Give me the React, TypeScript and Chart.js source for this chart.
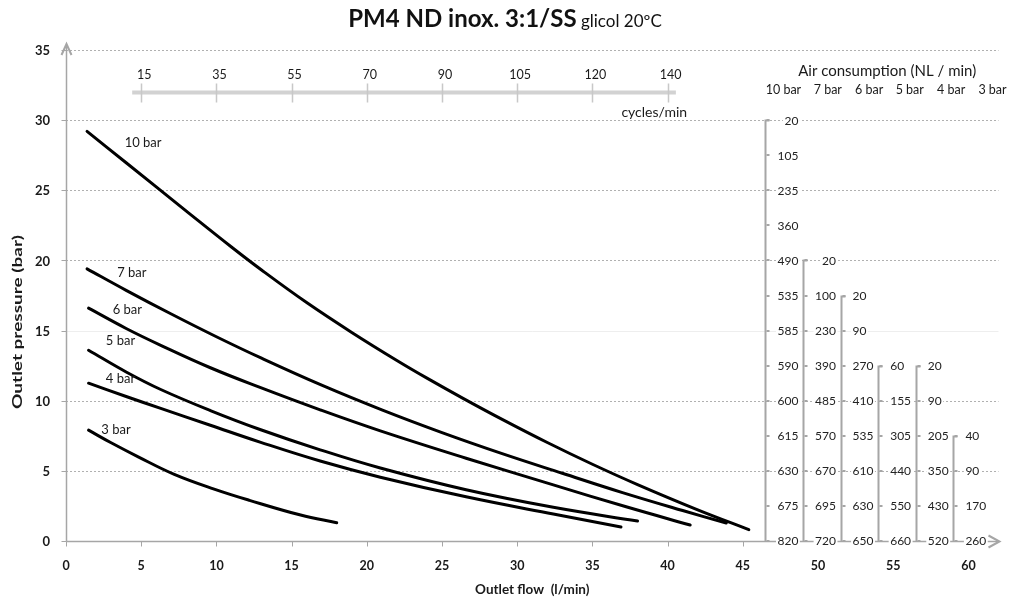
import React, { useEffect, useRef } from 'react';
import { Chart, registerables } from 'chart.js';

Chart.register(...registerables);

// ---------- data ----------
const seriesNames = ['10 bar', '7 bar', '6 bar', '5 bar', '4 bar', '3 bar'];

const flow10 = [1.4, 4, 8, 11, 13, 16, 19, 22, 24, 26.4, 29, 32, 35, 38, 42, 45.4];
const pressure10 = [29.2, 26.96, 23.52, 20.96, 19.32, 17.0, 14.87, 12.87, 11.61, 10.17, 8.67, 7.02, 5.47, 4.02, 2.22, 0.81];

const flow7 = [1.4, 4, 7, 10, 13, 17, 21, 25, 29, 33, 37, 41, 43.9];
const pressure7 = [19.4, 17.87, 16.18, 14.56, 13.03, 11.11, 9.35, 7.73, 6.23, 4.83, 3.45, 2.17, 1.28];

const flow6 = [1.5, 4, 6.3, 9.6, 12.9, 16.9, 20.9, 26.6, 32.4, 37.3, 41.5];
const pressure6 = [16.6, 15.15, 13.95, 12.35, 10.95, 9.35, 7.85, 5.9, 4.0, 2.42, 1.14];

const flow5 = [1.5, 4, 6.3, 9.6, 12.9, 16.9, 20.9, 26.6, 32.4, 38.0];
const pressure5 = [13.6, 12.05, 10.8, 9.3, 7.95, 6.5, 5.2, 3.65, 2.4, 1.42];

const flow4 = [1.5, 4, 6.3, 9.6, 12.9, 16.9, 20.9, 26.6, 32.4, 36.9];
const pressure4 = [11.25, 10.3, 9.45, 8.25, 7.05, 5.7, 4.55, 3.15, 1.92, 1.0];

const flow3 = [1.5, 3.0, 4.8, 7.2, 9.85, 12.2, 15.6, 18.0];
const pressure3 = [7.9, 7.0, 6.0, 4.75, 3.7, 2.9, 1.85, 1.3];

const xTicks = [0, 5, 10, 15, 20, 25, 30, 35, 40, 45, 50, 55, 60];
const yTicks = [0, 5, 10, 15, 20, 25, 30, 35];

// secondary "cycles/min" scale (flow position of each cycles tick)
const cycleFlowPositions = [5, 10, 15, 20, 25, 30, 35, 40];
const cycleLabels = [15, 35, 55, 70, 90, 105, 120, 140];

// air consumption table (NL/min), rows from top pressure down to 0 in 2.5 bar steps
const airHeaders = ['10 bar', '7 bar', '6 bar', '5 bar', '4 bar', '3 bar'];
const air10 = [20, 105, 235, 360, 490, 535, 585, 590, 600, 615, 630, 675, 820];
const air7 = [20, 100, 230, 390, 485, 570, 670, 695, 720];
const air6 = [20, 90, 270, 410, 535, 610, 630, 650];
const air5 = [60, 155, 305, 440, 550, 660];
const air4 = [20, 90, 205, 350, 430, 520];
const air3 = [40, 90, 170, 260];
const airRowStep = 2.5;
const airColumnFlow = [46.5, 49, 51.5, 54, 56.5, 59];
const airHeaderFlow = [47.7, 50.65, 53.4, 56.1, 58.85, 61.6];

// curve label anchors (flow, pressure)
const curveLabelFlow = [3.9, 3.4, 3.1, 2.65, 2.65, 2.35];
const curveLabelPressure = [28.4, 19.1, 16.45, 14.3, 11.55, 7.9];

const FONT = 'Lato, "Open Sans", sans-serif';
const TEXT = '#1a1a1a';
const AXIS = '#a6a6a6';

function drawText(
  ctx: CanvasRenderingContext2D,
  s: string,
  x: number,
  y: number,
  font: string,
  align: CanvasTextAlign = 'left',
  color = TEXT,
  baseline: CanvasTextBaseline = 'middle'
) {
  ctx.save();
  ctx.font = font;
  ctx.fillStyle = color;
  ctx.textAlign = align;
  ctx.textBaseline = baseline;
  ctx.fillText(s, x, y);
  ctx.restore();
}

const decorPlugin = {
  id: 'decor',
  beforeDatasetsDraw(chart: any) {
    const { ctx, chartArea: a, scales } = chart;
    const ys = scales.y;
    ctx.save();
    ctx.lineWidth = 1;
    for (const v of yTicks) {
      if (v === 0) continue;
      const py = Math.round(ys.getPixelForValue(v)) + 0.5;
      if (v === 15) {
        ctx.setLineDash([]);
        ctx.strokeStyle = '#eeeeee';
      } else {
        ctx.setLineDash([2, 2]);
        ctx.strokeStyle = '#b0b0b0';
      }
      ctx.beginPath();
      ctx.moveTo(a.left, py);
      ctx.lineTo(a.right, py);
      ctx.stroke();
    }
    ctx.restore();
  },
  afterDatasetsDraw(chart: any) {
    const { ctx, chartArea: a, scales } = chart;
    const xs = scales.x;
    const ys = scales.y;
    const x0 = Math.round(a.left) + 0.5;
    const y0 = Math.round(a.bottom) + 0.5;
    ctx.save();

    // axes
    ctx.strokeStyle = AXIS;
    ctx.lineWidth = 1.5;
    ctx.beginPath();
    ctx.moveTo(x0, y0);
    ctx.lineTo(x0, a.top - 5);
    ctx.moveTo(x0, y0);
    ctx.lineTo(a.right, y0);
    ctx.stroke();
    // arrows
    ctx.lineWidth = 2;
    ctx.beginPath();
    ctx.moveTo(x0 - 5, a.top + 5);
    ctx.lineTo(x0, a.top - 6);
    ctx.lineTo(x0 + 5, a.top + 5);
    ctx.moveTo(a.right - 10, y0 - 6);
    ctx.lineTo(a.right + 1, y0);
    ctx.lineTo(a.right - 10, y0 + 6);
    ctx.stroke();
    // tick marks
    ctx.lineWidth = 1;
    ctx.beginPath();
    for (const v of yTicks) {
      const py = Math.round(ys.getPixelForValue(v)) + 0.5;
      ctx.moveTo(x0 - 5, py);
      ctx.lineTo(x0, py);
    }
    for (const v of xTicks) {
      if (v > 45) continue;
      const px = Math.round(xs.getPixelForValue(v)) + 0.5;
      ctx.moveTo(px, y0);
      ctx.lineTo(px, y0 + 5);
    }
    ctx.stroke();

    // tick labels
    for (const v of yTicks) {
      drawText(ctx, String(v), a.left - 16, ys.getPixelForValue(v) + 1, `bold 13px ${FONT}`, 'right');
    }
    for (const v of xTicks) {
      drawText(ctx, String(v), xs.getPixelForValue(v), a.bottom + 25, `bold 12.5px ${FONT}`, 'center');
    }

    // axis titles
    drawText(ctx, 'Outlet flow  (l/min)', (a.left + a.right) / 2, 590, `bold 13.5px ${FONT}`, 'center');
    ctx.save();
    ctx.translate(18, 322);
    ctx.rotate(-Math.PI / 2);
    ctx.scale(1, 0.72);
    drawText(ctx, 'Outlet pressure (bar)', 0, 0, `bold 19px ${FONT}`, 'center');
    ctx.restore();

    // chart title
    ctx.save();
    const boldPart = 'PM4 ND inox. 3:1/SS';
    const regPart = ' glicol 20ºC';
    ctx.font = `bold 24px ${FONT}`;
    const wb = ctx.measureText(boldPart).width;
    ctx.font = `17px ${FONT}`;
    const wr = ctx.measureText(regPart).width;
    const tx = 505 - (wb + wr) / 2;
    drawText(ctx, boldPart, tx, 27, `bold 24px ${FONT}`, 'left', '#111', 'alphabetic');
    drawText(ctx, regPart, tx + wb, 27, `17px ${FONT}`, 'left', '#111', 'alphabetic');
    ctx.restore();

    // top cycles/min scale
    const cy = Math.round(ys.getPixelForValue(32)) + 0.5;
    ctx.strokeStyle = '#d2d2d2';
    ctx.lineWidth = 4;
    ctx.beginPath();
    ctx.moveTo(xs.getPixelForValue(4.4), cy);
    ctx.lineTo(xs.getPixelForValue(40.55), cy);
    ctx.stroke();
    ctx.strokeStyle = '#c8c8c8';
    ctx.lineWidth = 1.5;
    ctx.beginPath();
    cycleFlowPositions.forEach((f) => {
      const px = Math.round(xs.getPixelForValue(f)) + 0.5;
      ctx.moveTo(px, cy - 9);
      ctx.lineTo(px, cy + 10);
    });
    ctx.stroke();
    cycleFlowPositions.forEach((f, i) => {
      drawText(ctx, String(cycleLabels[i]), xs.getPixelForValue(f) + 3, cy - 18, `12.5px ${FONT}`, 'center');
    });
    drawText(ctx, 'cycles/min', xs.getPixelForValue(41.3), cy + 20, `14px ${FONT}`, 'right');

    // air consumption table
    drawText(ctx, 'Air consumption (NL / min)', xs.getPixelForValue(54.6), 71, `15px ${FONT}`, 'center');
    airHeaders.forEach((h, i) => {
      drawText(ctx, h, xs.getPixelForValue(airHeaderFlow[i]), 90, `12.5px ${FONT}`, 'center');
    });
    const cols = [air10, air7, air6, air5, air4, air3];
    ctx.strokeStyle = AXIS;
    ctx.fillStyle = AXIS;
    cols.forEach((vals, ci) => {
      const lx = Math.round(xs.getPixelForValue(airColumnFlow[ci])) + 0.5;
      const topP = (vals.length - 1) * airRowStep;
      const ty = Math.round(ys.getPixelForValue(topP)) + 0.5;
      ctx.lineWidth = 2;
      ctx.beginPath();
      ctx.moveTo(lx + 4, ty);
      ctx.lineTo(lx, ty);
      ctx.lineTo(lx, y0);
      ctx.stroke();
      vals.forEach((_, ri) => {
        const py = Math.round(ys.getPixelForValue(topP - ri * airRowStep));
        ctx.fillRect(lx + 1, py - 1, 3, 2);
      });
    });
    const labelFont = `12px ${FONT}`;
    ctx.font = labelFont;
    cols.forEach((vals, ci) => {
      const lx = xs.getPixelForValue(airColumnFlow[ci]);
      const topP = (vals.length - 1) * airRowStep;
      vals.forEach((v, ri) => {
        const py = ys.getPixelForValue(topP - ri * airRowStep);
        const s = String(v);
        ctx.font = labelFont;
        const w = ctx.measureText(s).width;
        const right = ci < 2;
        const tx = right ? lx + 33 - w : lx + 12;
        ctx.fillStyle = '#ffffff';
        ctx.fillRect(tx - 1.5, py - 6, w + 3, 12);
        drawText(ctx, s, tx, py + 0.5, labelFont, 'left', '#222');
      });
    });

    // curve labels
    seriesNames.forEach((n, i) => {
      drawText(ctx, n, xs.getPixelForValue(curveLabelFlow[i]), ys.getPixelForValue(curveLabelPressure[i]), `13px ${FONT}`, 'left', '#1a1a1a');
    });

    ctx.restore();
  },
};

export default function App() {
  const ref = useRef<HTMLCanvasElement>(null);
  useEffect(() => {
    const canvas = ref.current;
    if (!canvas) return;
    const flows = [flow10, flow7, flow6, flow5, flow4, flow3];
    const pressures = [pressure10, pressure7, pressure6, pressure5, pressure4, pressure3];
    const datasets = seriesNames.map((name, i) => ({
      label: name,
      data: flows[i].map((f, j) => ({ x: f, y: pressures[i][j] })),
      showLine: true,
      borderColor: '#000000',
      backgroundColor: '#000000',
      borderWidth: 3,
      pointRadius: 0,
      pointHoverRadius: 0,
      tension: 0.4,
      borderCapStyle: 'round' as const,
      borderJoinStyle: 'round' as const,
    }));
    const chart = new Chart(canvas, {
      type: 'scatter',
      data: { datasets },
      options: {
        animation: false,
        responsive: false,
        events: [],
        layout: { padding: { top: 50, right: 13.5, bottom: 0, left: 0 } },
        plugins: {
          legend: { display: false },
          tooltip: { enabled: false },
          title: { display: false },
        },
        scales: {
          x: {
            type: 'linear',
            min: 0,
            max: 62,
            grid: { display: false, drawTicks: false },
            border: { display: false },
            ticks: { display: false },
            afterBuildTicks: (s: any) => {
              s.ticks = xTicks.map((v) => ({ value: v }));
            },
            afterFit: (s: any) => {
              s.height = 65;
            },
          },
          y: {
            type: 'linear',
            min: 0,
            max: 35,
            grid: { display: false, drawTicks: false },
            border: { display: false },
            ticks: { display: false },
            afterBuildTicks: (s: any) => {
              s.ticks = yTicks.map((v) => ({ value: v }));
            },
            afterFit: (s: any) => {
              s.width = 66;
            },
          },
        },
      },
      plugins: [decorPlugin],
    });
    return () => chart.destroy();
  }, []);
  return (
    <div style={{ position: 'absolute', left: 0, top: 0, width: 1012, height: 606, background: '#ffffff' }}>
      <canvas ref={ref} width={1012} height={606} style={{ display: 'block' }} />
    </div>
  );
}
